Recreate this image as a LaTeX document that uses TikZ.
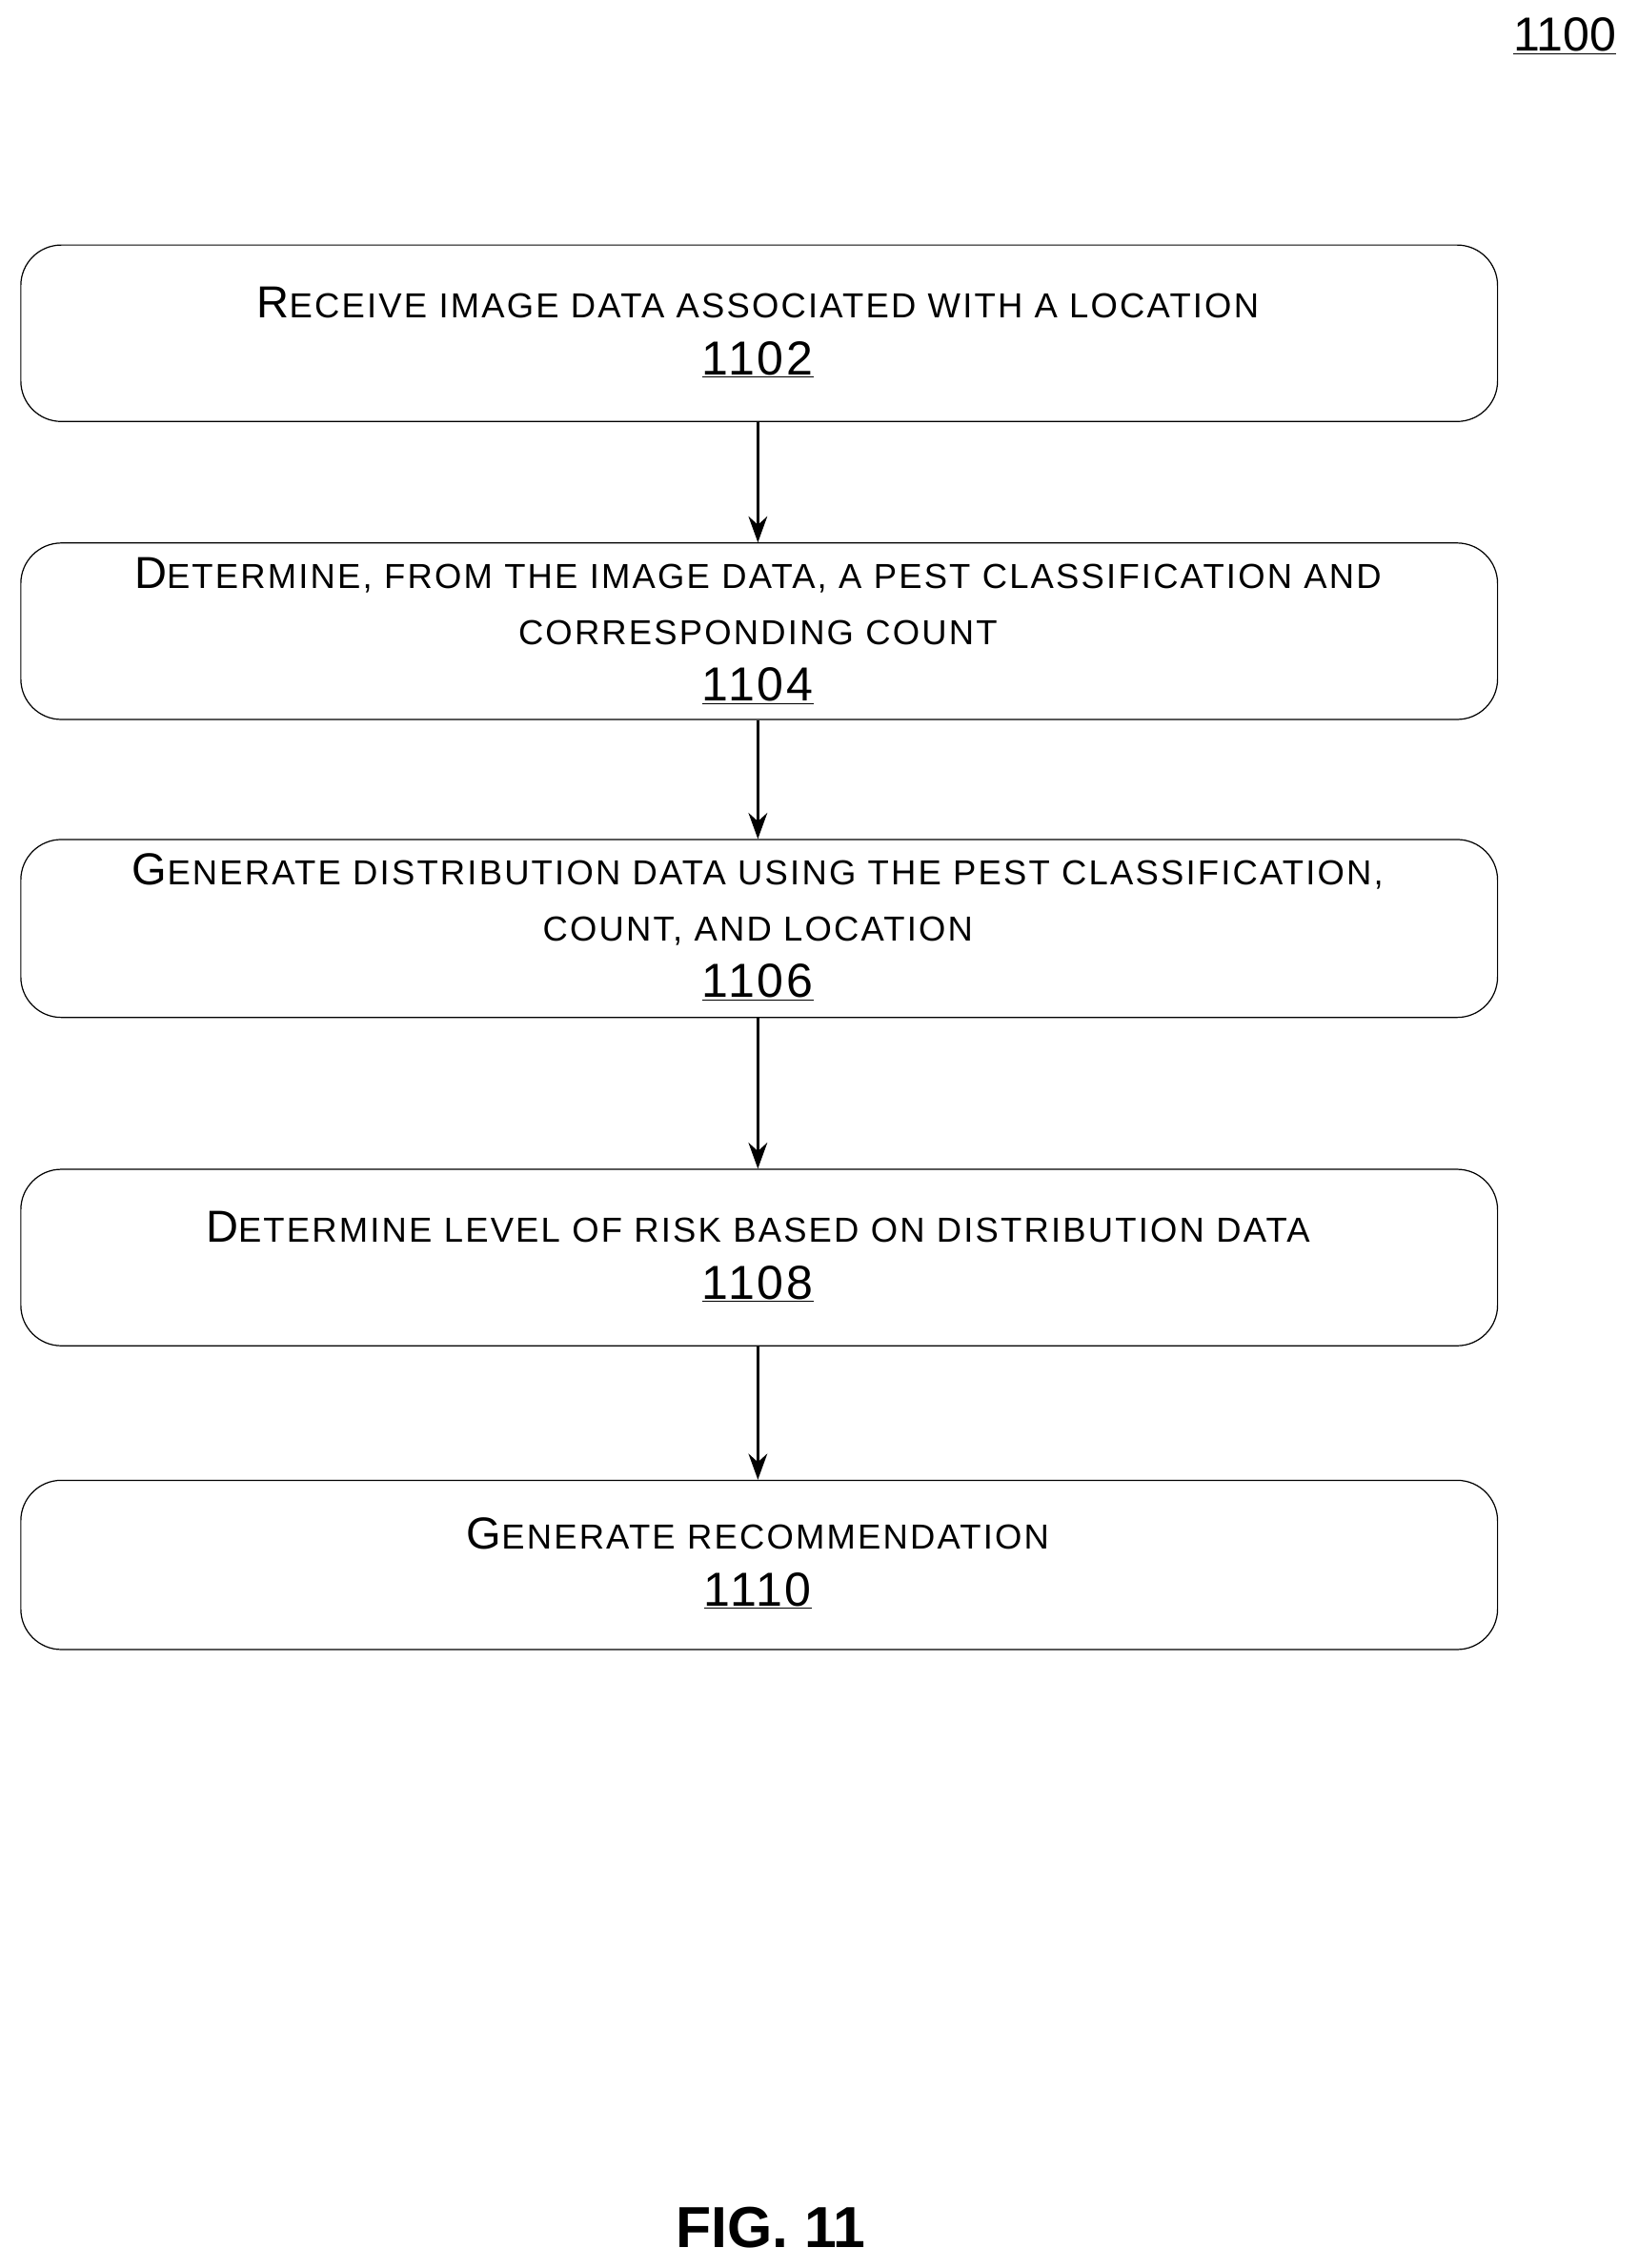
\documentclass[tikz,border=0pt]{standalone}
\usepackage{fontspec}
\setmainfont{Liberation Sans}
\newfontfamily\spaced[LetterSpace=6]{Liberation Sans}
\usetikzlibrary{arrows.meta}
\newcommand{\fsc}[2]{{\fontsize{31}{30}\selectfont #1}{\fontsize{24}{30}\selectfont #2}}
\newcommand{\num}[1]{{\fontsize{33}{30}\selectfont\underline{#1}}}
\begin{document}
\begin{tikzpicture}[x=1pt,y=-1pt,
  box/.style={draw,line width=0.8pt,rounded corners=28pt,minimum width=1021pt,anchor=north west,inner sep=0pt},
  txt/.style={align=center,font=\spaced\fontsize{24}{39}\selectfont},
  arr/.style={-{Stealth[length=18pt,width=13pt]},line width=1.8pt}]
\useasboundingbox (0,0) rectangle (1132,1568);
\node[box,minimum height=122pt] (b1) at (14,169) {};
\node[box,minimum height=122pt] (b2) at (14,375) {};
\node[box,minimum height=123pt] (b3) at (14,580) {};
\node[box,minimum height=122pt] (b4) at (14,808) {};
\node[box,minimum height=117pt] (b5) at (14,1023) {};
\node[txt] (t1) at (524,230) {\fsc{R}{ECEIVE IMAGE DATA ASSOCIATED WITH A LOCATION}\\\num{1102}};
\node[txt] (t2) at (524,436) {\fsc{D}{ETERMINE, FROM THE IMAGE DATA, A PEST CLASSIFICATION AND}\\CORRESPONDING COUNT\\\num{1104}};
\node[txt] (t3) at (524,641) {\fsc{G}{ENERATE DISTRIBUTION DATA USING THE PEST CLASSIFICATION,}\\COUNT, AND LOCATION\\\num{1106}};
\node[txt] (t4) at (524,869) {\fsc{D}{ETERMINE LEVEL OF RISK BASED ON DISTRIBUTION DATA}\\\num{1108}};
\node[txt] (t5) at (524,1081) {\fsc{G}{ENERATE RECOMMENDATION}\\\num{1110}};
\node (n1100) at (1082,25) {\num{1100}};
\node[font=\bfseries\fontsize{40}{44}\selectfont] (fig) at (533,1540) {FIG. 11};
\draw[arr] (524,291) -- (b2.north -| 524,0);
\draw[arr] (b2.south -| 524,0) -- (b3.north -| 524,0);
\draw[arr] (b3.south -| 524,0) -- (b4.north -| 524,0);
\draw[arr] (b4.south -| 524,0) -- (b5.north -| 524,0);
\end{tikzpicture}
\end{document}
